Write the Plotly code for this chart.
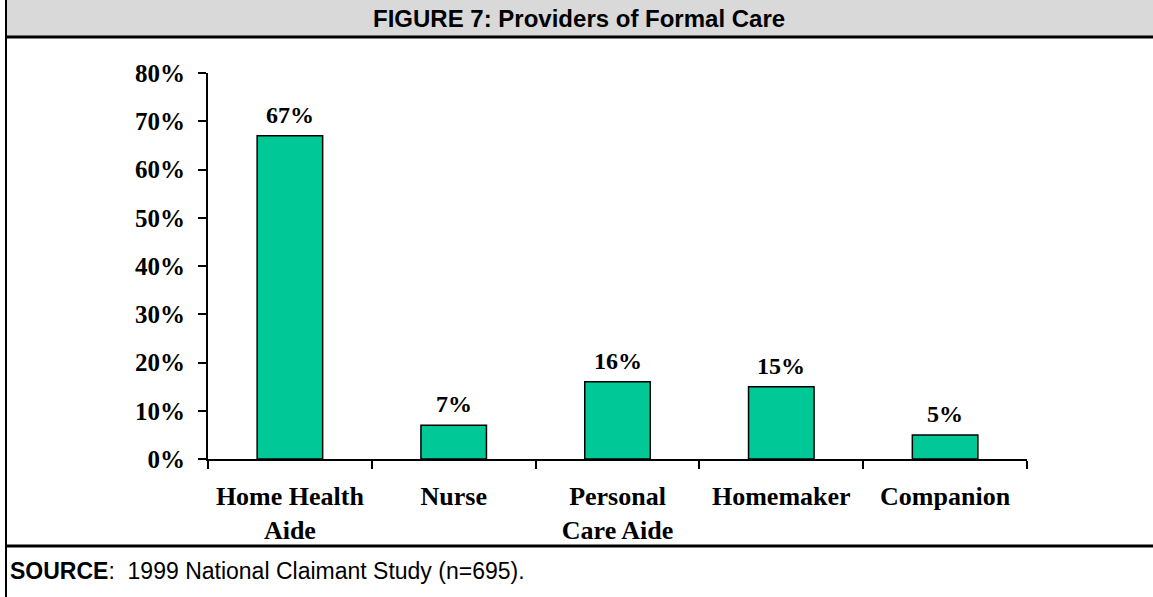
import plotly.graph_objects as go

# providers of formal care, share of claimants (%)
categories = ["Home Health Aide", "Nurse", "Personal Care Aide", "Homemaker", "Companion"]
category_ticks = ["Home Health<br>Aide", "Nurse", "Personal<br>Care Aide", "Homemaker", "Companion"]
shares = [67, 7, 16, 15, 5]
bar_labels = ["67%", "7%", "16%", "15%", "5%"]
y_ticks = [0, 10, 20, 30, 40, 50, 60, 70, 80]
y_tick_labels = ["0%", "10%", "20%", "30%", "40%", "50%", "60%", "70%", "80%"]

W, H = 1153, 597
L, R, T, B = 208, 126, 73, 138
pw, ph = W - L - R, H - T - B


def px_x(x):
    return (x - L) / pw


def px_y(y):
    return (H - B - y) / ph


serif = "Liberation Serif"
sans = "Liberation Sans"

fig = go.Figure(go.Bar(
    x=categories, y=shares,
    marker=dict(color="#00c896", line=dict(color="black", width=1.5)),
    width=0.4,
))

# value labels above the bars
for cat, val, lab in zip(categories, shares, bar_labels):
    fig.add_annotation(x=cat, y=val, text="<b>" + lab + "</b>", showarrow=False,
                       yanchor="bottom", yshift=6,
                       font=dict(family=serif, size=24, color="black"))

fig.update_layout(
    width=W, height=H,
    margin=dict(l=L, r=R, t=T, b=B),
    plot_bgcolor="white", paper_bgcolor="white",
    showlegend=False,
    font=dict(family=serif, size=24, color="black"),
)
fig.update_yaxes(
    range=[0, 80], tickvals=y_ticks,
    ticktext=["<b>" + t + "</b>" for t in y_tick_labels],
    showgrid=False, zeroline=False,
    showline=True, linecolor="black", linewidth=2,
    ticks="outside", ticklen=8, tickwidth=2, tickcolor="black",
    ticklabelstandoff=8,
    tickfont=dict(family=serif, size=25, color="black"),
)
fig.update_xaxes(
    tickvals=categories,
    ticktext=["<b>" + t + "</b>" for t in category_ticks],
    showgrid=False, showline=True, linecolor="black", linewidth=2,
    ticks="outside", ticklen=8, tickwidth=2, tickcolor="black",
    tickson="boundaries", ticklabelstandoff=13,
    tickfont=dict(family=serif, size=26, color="black"),
)

shapes = [
    # title band
    dict(type="rect", xref="paper", yref="paper",
         x0=px_x(6), x1=px_x(1160), y0=px_y(37), y1=px_y(-2),
         fillcolor="#d9d9d9", line=dict(color="black", width=2), layer="below"),
    dict(type="line", xref="paper", yref="paper",
         x0=px_x(6), x1=px_x(1160), y0=px_y(37), y1=px_y(37),
         line=dict(color="black", width=3)),
    # left border
    dict(type="line", xref="paper", yref="paper",
         x0=px_x(6), x1=px_x(6), y0=px_y(0), y1=px_y(600),
         line=dict(color="black", width=2)),
    # line above source
    dict(type="line", xref="paper", yref="paper",
         x0=px_x(6), x1=px_x(1160), y0=px_y(546), y1=px_y(546),
         line=dict(color="black", width=3)),
]
fig.update_layout(shapes=shapes)

fig.add_annotation(
    text="<b>FIGURE 7: Providers of Formal Care</b>", xref="paper", yref="paper",
    x=px_x(579), y=px_y(19), showarrow=False, xanchor="center", yanchor="middle",
    font=dict(family=sans, size=24, color="black"),
)
fig.add_annotation(
    text="<b>SOURCE</b>:  1999 National Claimant Study (n=695).", xref="paper", yref="paper",
    x=px_x(8), y=px_y(571), showarrow=False, xanchor="left", yanchor="middle",
    font=dict(family=sans, size=23, color="black"),
)

fig.write_html("out.html", post_script="document.body.style.margin='0';",
               config={"displayModeBar": False})
